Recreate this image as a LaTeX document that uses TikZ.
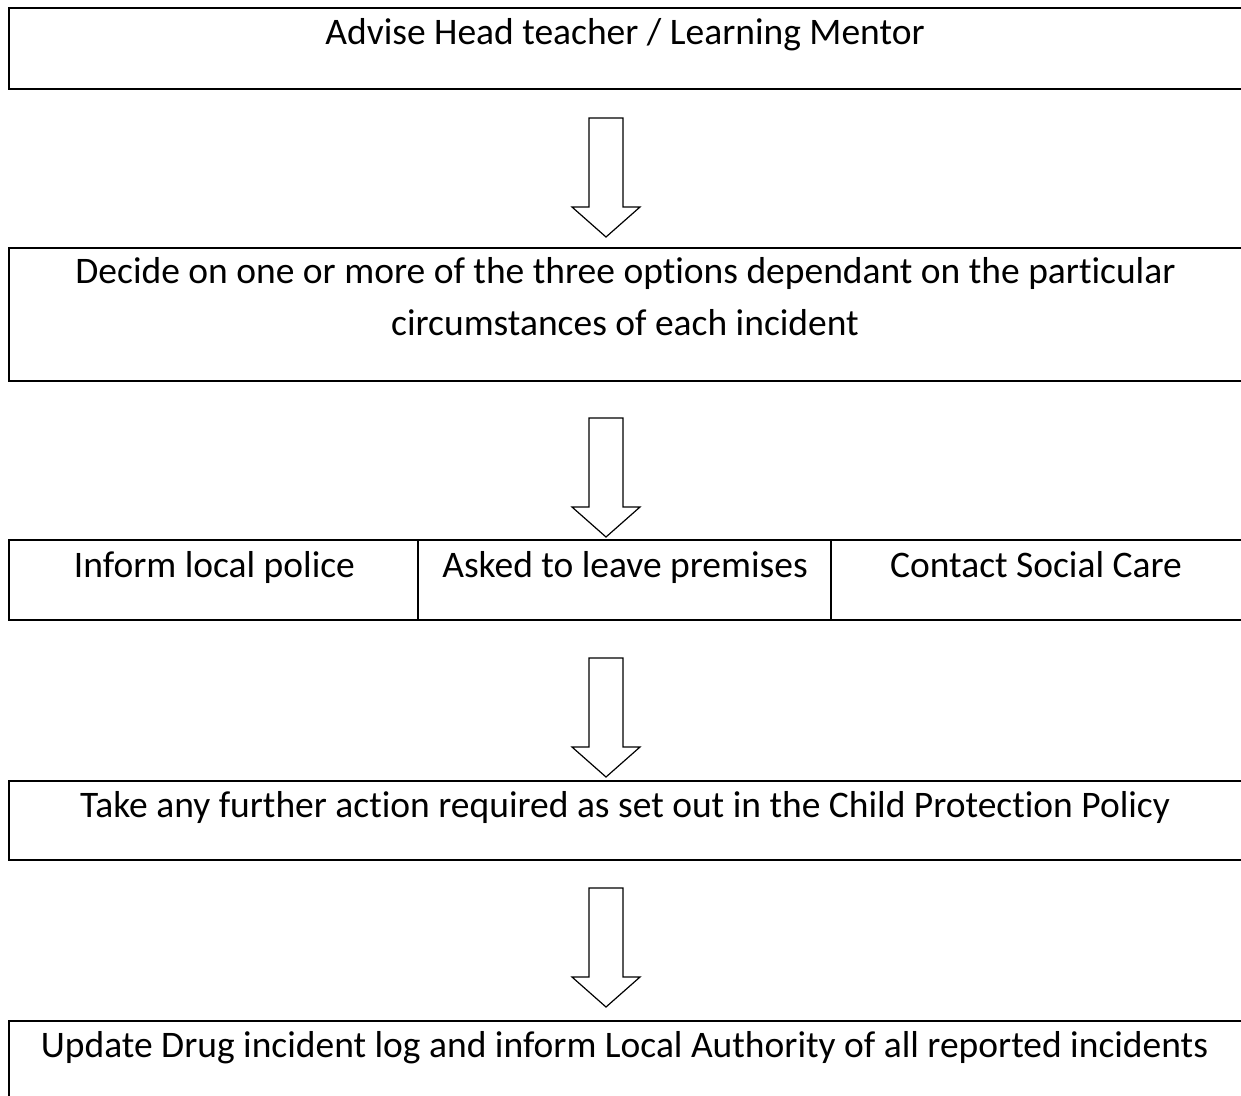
\documentclass[tikz,border=0pt]{standalone}
\usepackage{fontspec}
\setmainfont[Ligatures=NoCommon]{Carlito}
\usetikzlibrary{calc}
\begin{document}
\begin{tikzpicture}[x=1pt,y=-1pt,
  box/.style={draw=black, line width=2pt, rectangle, anchor=north west, inner sep=0pt, outer sep=0pt},
  lbl/.style={anchor=base, inner sep=0pt, font=\fontsize{37.5}{52}\selectfont},
  blockarrow/.style={draw=black, line width=1.2pt, fill=white, line join=miter}]
\useasboundingbox (0,0) rectangle (1241,1095);
% boxes
\node[box, minimum width=1236pt, minimum height=81pt] (b1) at (9,8) {};
\node[box, minimum width=1236pt, minimum height=133pt] (b2) at (9,248) {};
\node[box, minimum width=409pt, minimum height=80pt] (b3a) at (9,540) {};
\node[box, minimum width=413pt, minimum height=80pt] (b3b) at (418,540) {};
\node[box, minimum width=414pt, minimum height=80pt] (b3c) at (831,540) {};
\node[box, minimum width=1236pt, minimum height=79pt] (b4) at (9,781) {};
\node[box, minimum width=1236pt, minimum height=100pt] (b5) at (9,1021) {};
% labels
\node[lbl] (t1) at (625,44) {Advise Head teacher / Learning Mentor};
\node[lbl] (t2a) at (625.5,283) {Decide on one or more of the three options dependant on the particular};
\node[lbl] (t2b) at (625,335) {circumstances of each incident};
\node[lbl] (t3a) at (214.5,577) {Inform local police};
\node[lbl] (t3b) at (625,577) {Asked to leave premises};
\node[lbl] (t3c) at (1036,577) {Contact Social Care};
\node[lbl] (t4) at (625,817) {Take any further action required as set out in the Child Protection Policy};
\node[lbl] (t5) at (624.5,1057) {Update Drug incident log and inform Local Authority of all reported incidents};
% block arrows
\foreach \y [count=\i] in {118,418,658,888} {
  \coordinate (a\i) at (606,\y);
  \draw[blockarrow] ($(a\i)+(-17,0)$) -- ($(a\i)+(17,0)$) -- ($(a\i)+(17,89)$) -- ($(a\i)+(34,89)$)
    -- ($(a\i)+(0,119)$) -- ($(a\i)+(-34,89)$) -- ($(a\i)+(-17,89)$) -- cycle;
}
\end{tikzpicture}
\end{document}
